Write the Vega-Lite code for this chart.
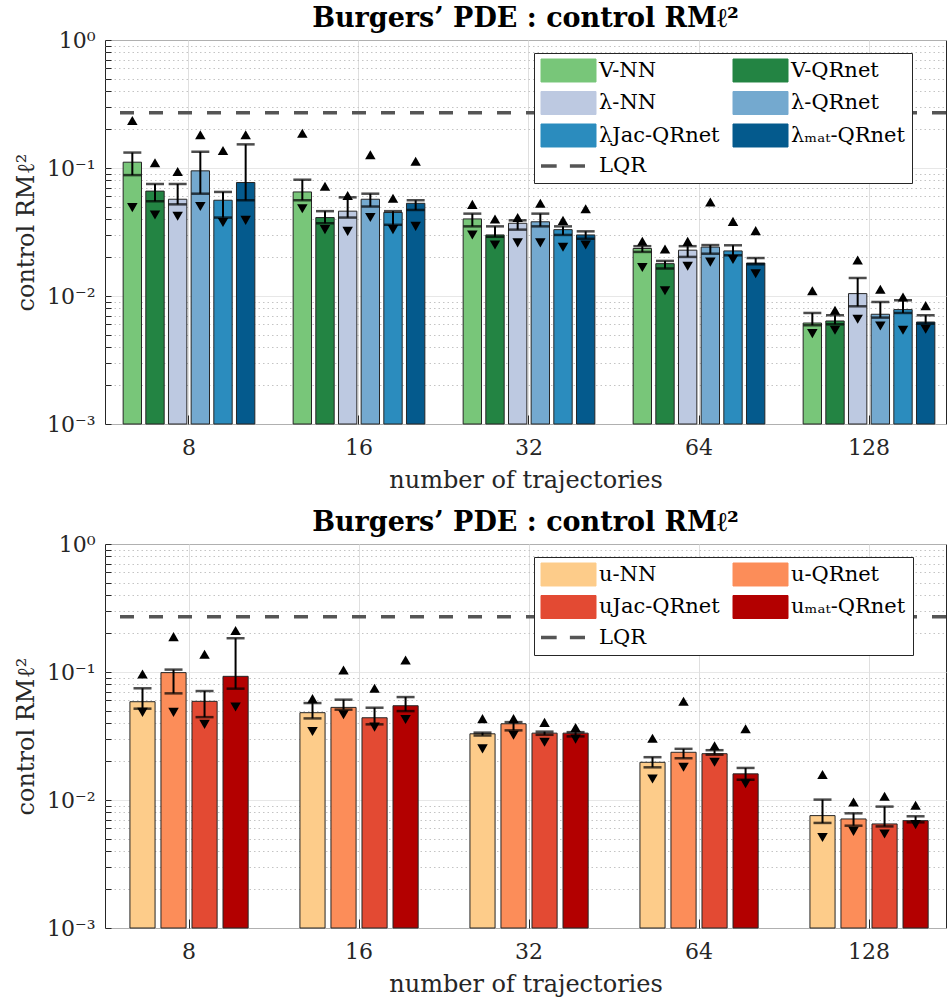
{
  "$schema": "https://vega.github.io/schema/vega-lite/v6.json",
  "padding": {"left": 14, "top": 4, "right": 0, "bottom": 0},
  "config": {
    "font": "DejaVu Serif",
    "view": {"stroke": "#262626", "strokeWidth": 1},
    "axis": {"labelFont": "DejaVu Serif", "labelFontSize": 22, "labelColor": "#262626", "titleFont": "DejaVu Serif", "titleFontSize": 24, "titleFontWeight": "normal", "titleColor": "#262626", "domain": false, "tickColor": "#262626"},
    "title": {"font": "DejaVu Serif", "fontSize": 27, "fontWeight": "bold", "color": "#000000", "offset": -4, "anchor": "middle", "frame": "group"}
  },
  "datasets": {
    "top": [
      {"traj": "8", "series": "V-NN", "mean": 0.111, "lo": 0.088, "hi": 0.132, "min": 0.049, "max": 0.235},
      {"traj": "8", "series": "V-QRnet", "mean": 0.066, "lo": 0.055, "hi": 0.075, "min": 0.043, "max": 0.110},
      {"traj": "8", "series": "λ-NN", "mean": 0.057, "lo": 0.052, "hi": 0.075, "min": 0.042, "max": 0.094},
      {"traj": "8", "series": "λ-QRnet", "mean": 0.095, "lo": 0.063, "hi": 0.134, "min": 0.050, "max": 0.182},
      {"traj": "8", "series": "λJac-QRnet", "mean": 0.056, "lo": 0.041, "hi": 0.065, "min": 0.0375, "max": 0.137},
      {"traj": "8", "series": "λₘₐₜ-QRnet", "mean": 0.077, "lo": 0.056, "hi": 0.153, "min": 0.039, "max": 0.182},
      {"traj": "16", "series": "V-NN", "mean": 0.065, "lo": 0.056, "hi": 0.081, "min": 0.048, "max": 0.187},
      {"traj": "16", "series": "V-QRnet", "mean": 0.041, "lo": 0.037, "hi": 0.046, "min": 0.033, "max": 0.072},
      {"traj": "16", "series": "λ-NN", "mean": 0.046, "lo": 0.041, "hi": 0.059, "min": 0.032, "max": 0.061},
      {"traj": "16", "series": "λ-QRnet", "mean": 0.057, "lo": 0.050, "hi": 0.063, "min": 0.041, "max": 0.127},
      {"traj": "16", "series": "λJac-QRnet", "mean": 0.045, "lo": 0.036, "hi": 0.046, "min": 0.033, "max": 0.058},
      {"traj": "16", "series": "λₘₐₜ-QRnet", "mean": 0.053, "lo": 0.047, "hi": 0.056, "min": 0.035, "max": 0.113},
      {"traj": "32", "series": "V-NN", "mean": 0.040, "lo": 0.035, "hi": 0.044, "min": 0.030, "max": 0.052},
      {"traj": "32", "series": "V-QRnet", "mean": 0.030, "lo": 0.029, "hi": 0.035, "min": 0.025, "max": 0.040},
      {"traj": "32", "series": "λ-NN", "mean": 0.037, "lo": 0.033, "hi": 0.039, "min": 0.026, "max": 0.041},
      {"traj": "32", "series": "λ-QRnet", "mean": 0.038, "lo": 0.035, "hi": 0.044, "min": 0.026, "max": 0.053},
      {"traj": "32", "series": "λJac-QRnet", "mean": 0.033, "lo": 0.030, "hi": 0.035, "min": 0.024, "max": 0.039},
      {"traj": "32", "series": "λₘₐₜ-QRnet", "mean": 0.030, "lo": 0.028, "hi": 0.032, "min": 0.025, "max": 0.048},
      {"traj": "64", "series": "V-NN", "mean": 0.0235, "lo": 0.0221, "hi": 0.0245, "min": 0.0167, "max": 0.0268},
      {"traj": "64", "series": "V-QRnet", "mean": 0.0179, "lo": 0.0164, "hi": 0.0188, "min": 0.0110, "max": 0.0233},
      {"traj": "64", "series": "λ-NN", "mean": 0.0228, "lo": 0.0202, "hi": 0.0245, "min": 0.0171, "max": 0.0267},
      {"traj": "64", "series": "λ-QRnet", "mean": 0.0241, "lo": 0.0214, "hi": 0.0250, "min": 0.0184, "max": 0.0543},
      {"traj": "64", "series": "λJac-QRnet", "mean": 0.0225, "lo": 0.0208, "hi": 0.0249, "min": 0.0193, "max": 0.0383},
      {"traj": "64", "series": "λₘₐₜ-QRnet", "mean": 0.0181, "lo": 0.0177, "hi": 0.0198, "min": 0.0149, "max": 0.0324},
      {"traj": "128", "series": "V-NN", "mean": 0.00615, "lo": 0.00591, "hi": 0.00737, "min": 0.00508, "max": 0.0110},
      {"traj": "128", "series": "V-QRnet", "mean": 0.00638, "lo": 0.00601, "hi": 0.00707, "min": 0.00540, "max": 0.00773},
      {"traj": "128", "series": "λ-NN", "mean": 0.01044, "lo": 0.00831, "hi": 0.01383, "min": 0.00658, "max": 0.0191},
      {"traj": "128", "series": "λ-QRnet", "mean": 0.00720, "lo": 0.00678, "hi": 0.00898, "min": 0.00583, "max": 0.01128},
      {"traj": "128", "series": "λJac-QRnet", "mean": 0.00783, "lo": 0.00737, "hi": 0.00926, "min": 0.00540, "max": 0.00982},
      {"traj": "128", "series": "λₘₐₜ-QRnet", "mean": 0.00626, "lo": 0.00608, "hi": 0.00707, "min": 0.00550, "max": 0.00841}
    ],
    "bottom": [
      {"traj": "8", "series": "u-NN", "mean": 0.0586, "lo": 0.0517, "hi": 0.0746, "min": 0.0484, "max": 0.0965},
      {"traj": "8", "series": "u-QRnet", "mean": 0.0989, "lo": 0.0681, "hi": 0.1044, "min": 0.0484, "max": 0.189},
      {"traj": "8", "series": "uJac-QRnet", "mean": 0.0590, "lo": 0.0444, "hi": 0.0710, "min": 0.0390, "max": 0.1376},
      {"traj": "8", "series": "uₘₐₜ-QRnet", "mean": 0.0925, "lo": 0.0741, "hi": 0.1836, "min": 0.0532, "max": 0.211},
      {"traj": "16", "series": "u-NN", "mean": 0.0481, "lo": 0.0434, "hi": 0.0572, "min": 0.0343, "max": 0.0619},
      {"traj": "16", "series": "u-QRnet", "mean": 0.0529, "lo": 0.0508, "hi": 0.0608, "min": 0.0464, "max": 0.1037},
      {"traj": "16", "series": "uJac-QRnet", "mean": 0.0439, "lo": 0.0390, "hi": 0.0526, "min": 0.0371, "max": 0.0746},
      {"traj": "16", "series": "uₘₐₜ-QRnet", "mean": 0.0545, "lo": 0.0495, "hi": 0.0637, "min": 0.0426, "max": 0.1241},
      {"traj": "32", "series": "u-NN", "mean": 0.0329, "lo": 0.0319, "hi": 0.0336, "min": 0.0251, "max": 0.0432},
      {"traj": "32", "series": "u-QRnet", "mean": 0.0394, "lo": 0.0350, "hi": 0.0406, "min": 0.0321, "max": 0.0432},
      {"traj": "32", "series": "uJac-QRnet", "mean": 0.0333, "lo": 0.0323, "hi": 0.0342, "min": 0.0283, "max": 0.0404},
      {"traj": "32", "series": "uₘₐₜ-QRnet", "mean": 0.0333, "lo": 0.0314, "hi": 0.0339, "min": 0.0299, "max": 0.0369},
      {"traj": "64", "series": "u-NN", "mean": 0.0197, "lo": 0.0180, "hi": 0.0216, "min": 0.0146, "max": 0.0304},
      {"traj": "64", "series": "u-QRnet", "mean": 0.0236, "lo": 0.0212, "hi": 0.0251, "min": 0.0180, "max": 0.0590},
      {"traj": "64", "series": "uJac-QRnet", "mean": 0.0230, "lo": 0.0226, "hi": 0.0245, "min": 0.0197, "max": 0.0265},
      {"traj": "64", "series": "uₘₐₜ-QRnet", "mean": 0.0160, "lo": 0.0144, "hi": 0.0178, "min": 0.0134, "max": 0.0360},
      {"traj": "128", "series": "u-NN", "mean": 0.00755, "lo": 0.00662, "hi": 0.01007, "min": 0.00510, "max": 0.0158},
      {"traj": "128", "series": "u-QRnet", "mean": 0.00711, "lo": 0.00630, "hi": 0.00787, "min": 0.00569, "max": 0.00966},
      {"traj": "128", "series": "uJac-QRnet", "mean": 0.00650, "lo": 0.00622, "hi": 0.00888, "min": 0.00543, "max": 0.01069},
      {"traj": "128", "series": "uₘₐₜ-QRnet", "mean": 0.00690, "lo": 0.00669, "hi": 0.00746, "min": 0.00642, "max": 0.00909}
    ],
    "lqr": [{"series": "LQR", "value": 0.27}]
  },
  "spacing": 120,
  "bounds": "flush",
  "resolve": {"scale": {"color": "independent", "x": "independent", "y": "independent", "xOffset": "independent"}, "legend": {"color": "independent"}},
  "vconcat": [
    {
      "width": 841, "height": 384,
      "title": {"text": "Burgers’ PDE : control RMℓ²"},
      "data": {"name": "top"},
      "layer": [
        {
          "mark": {"type": "bar", "stroke": "#262626", "strokeWidth": 1},
          "encoding": {
            "x": {"field": "traj", "type": "ordinal", "sort": ["8", "16", "32", "64", "128"], "scale": {"type": "band", "paddingInner": 0.2, "paddingOuter": 0.0735, "align": 0.64},
              "axis": {"title": "number of trajectories", "titlePadding": 10, "labelAngle": 0, "tickSize": -9, "labelPadding": 22, "grid": true, "gridColor": "#dfdfdf"}},
            "xOffset": {"field": "series", "sort": ["V-NN", "V-QRnet", "λ-NN", "λ-QRnet", "λJac-QRnet", "λₘₐₜ-QRnet"], "scale": {"paddingInner": 0.19, "paddingOuter": 0.095}},
            "y": {"field": "mean", "type": "quantitative", "stack": null, "scale": {"type": "log", "domain": [0.001, 1], "nice": false},
              "axis": {"title": "control RMℓ²", "titlePadding": 8, "values": [0.001, 0.002, 0.003, 0.004, 0.005, 0.006, 0.007, 0.008, 0.009, 0.01, 0.02, 0.03, 0.04, 0.05, 0.06, 0.07, 0.08, 0.09, 0.1, 0.2, 0.3, 0.4, 0.5, 0.6, 0.7, 0.8, 0.9, 1],
                "labelExpr": "datum.value == 1 ? '10⁰' : datum.value == 0.1 ? '10⁻¹' : datum.value == 0.01 ? '10⁻²' : datum.value == 0.001 ? '10⁻³' : ''",
                "labelOverlap": false, "labelPadding": 16, "tickSize": -6, "grid": true,
                "gridDash": {"condition": {"test": "indexof([0.001, 0.01, 0.1, 1], datum.value) < 0", "value": [1.5, 3]}, "value": [1, 0]},
                "gridColor": {"condition": {"test": "indexof([0.001, 0.01, 0.1, 1], datum.value) < 0", "value": "#c4c4c4"}, "value": "#dfdfdf"}}},
            "color": {"field": "series", "type": "nominal",
              "scale": {"domain": ["V-NN", "V-QRnet", "λ-NN", "λ-QRnet", "λJac-QRnet", "λₘₐₜ-QRnet", "LQR"], "range": ["#78c679", "#238443", "#bdc9e1", "#74a9cf", "#2b8cbe", "#045a8d", "#555555"]},
              "legend": {"orient": "none", "legendX": 429, "legendY": 13, "direction": "horizontal", "title": null, "columns": 2, "columnPadding": 11, "rowPadding": 5.5,
                "symbolSize": 3025, "symbolType": "M-1,-0.418H1V0.418H-1Z", "symbolStrokeColor": "#262626", "symbolStrokeWidth": 1, "symbolOffset": 17,
                "labelFont": "DejaVu Serif", "labelFontSize": 21, "labelOffset": 20, "labelColor": "#000000", "labelLimit": 300,
                "padding": 7, "strokeColor": "#262626", "fillColor": "#ffffff",
                "encoding": {"symbols": {
                  "shape": {"value": {"expr": "datum.value === 'LQR' ? 'M-1,0H-0.43M0.05,0H0.6' : 'M-1,-0.418H1V0.418H-1Z'"}},
                  "strokeWidth": {"value": {"expr": "datum.value === 'LQR' ? 3.5 : 1"}},
                  "stroke": {"value": {"expr": "datum.value === 'LQR' ? '#555555' : '#262626'"}},
                  "fillOpacity": {"value": {"expr": "datum.value === 'LQR' ? 0 : 1"}},
                  "opacity": {"value": 1}}}}}
          }
        },
        {
          "mark": {"type": "rule", "color": "#000000", "strokeWidth": 2},
          "encoding": {
            "x": {"field": "traj", "type": "ordinal", "sort": ["8", "16", "32", "64", "128"], "scale": {"type": "band"}},
            "xOffset": {"field": "series", "sort": ["V-NN", "V-QRnet", "λ-NN", "λ-QRnet", "λJac-QRnet", "λₘₐₜ-QRnet"]},
            "y": {"field": "lo", "type": "quantitative", "scale": {"type": "log", "domain": [0.001, 1], "nice": false}},
            "y2": {"field": "hi"}
          }
        },
        {
          "mark": {"type": "tick", "color": "#000000", "thickness": 2.5, "size": 18},
          "encoding": {
            "x": {"field": "traj", "type": "ordinal", "sort": ["8", "16", "32", "64", "128"], "scale": {"type": "band"}},
            "xOffset": {"field": "series", "sort": ["V-NN", "V-QRnet", "λ-NN", "λ-QRnet", "λJac-QRnet", "λₘₐₜ-QRnet"]},
            "y": {"field": "hi", "type": "quantitative", "scale": {"type": "log", "domain": [0.001, 1], "nice": false}}
          }
        },
        {
          "mark": {"type": "tick", "color": "#000000", "thickness": 2.5, "size": 18},
          "encoding": {
            "x": {"field": "traj", "type": "ordinal", "sort": ["8", "16", "32", "64", "128"], "scale": {"type": "band"}},
            "xOffset": {"field": "series", "sort": ["V-NN", "V-QRnet", "λ-NN", "λ-QRnet", "λJac-QRnet", "λₘₐₜ-QRnet"]},
            "y": {"field": "lo", "type": "quantitative", "scale": {"type": "log", "domain": [0.001, 1], "nice": false}}
          }
        },
        {
          "mark": {"type": "point", "shape": "triangle-up", "filled": true, "color": "#000000", "size": 110, "opacity": 1},
          "encoding": {
            "x": {"field": "traj", "type": "ordinal", "sort": ["8", "16", "32", "64", "128"], "scale": {"type": "band"}},
            "xOffset": {"field": "series", "sort": ["V-NN", "V-QRnet", "λ-NN", "λ-QRnet", "λJac-QRnet", "λₘₐₜ-QRnet"]},
            "y": {"field": "max", "type": "quantitative", "scale": {"type": "log", "domain": [0.001, 1], "nice": false}}
          }
        },
        {
          "mark": {"type": "point", "shape": "triangle-down", "filled": true, "color": "#000000", "size": 110, "opacity": 1},
          "encoding": {
            "x": {"field": "traj", "type": "ordinal", "sort": ["8", "16", "32", "64", "128"], "scale": {"type": "band"}},
            "xOffset": {"field": "series", "sort": ["V-NN", "V-QRnet", "λ-NN", "λ-QRnet", "λJac-QRnet", "λₘₐₜ-QRnet"]},
            "y": {"field": "min", "type": "quantitative", "scale": {"type": "log", "domain": [0.001, 1], "nice": false}}
          }
        },
        {
          "data": {"name": "lqr"},
          "mark": {"type": "rule", "strokeDash": [14, 15], "strokeWidth": 3.5},
          "encoding": {
            "y": {"field": "value", "type": "quantitative", "scale": {"type": "log", "domain": [0.001, 1], "nice": false}},
            "color": {"field": "series", "type": "nominal", "legend": null}
          }
        }
      ]
    },
    {
      "width": 841, "height": 384,
      "title": {"text": "Burgers’ PDE : control RMℓ²"},
      "data": {"name": "bottom"},
      "layer": [
        {
          "mark": {"type": "bar", "stroke": "#262626", "strokeWidth": 1},
          "encoding": {
            "x": {"field": "traj", "type": "ordinal", "sort": ["8", "16", "32", "64", "128"], "scale": {"type": "band", "paddingInner": 0.27, "paddingOuter": 0.1085, "align": 0.596},
              "axis": {"title": "number of trajectories", "titlePadding": 10, "labelAngle": 0, "tickSize": -9, "labelPadding": 22, "grid": true, "gridColor": "#dfdfdf"}},
            "xOffset": {"field": "series", "sort": ["u-NN", "u-QRnet", "uJac-QRnet", "uₘₐₜ-QRnet"], "scale": {"paddingInner": 0.19, "paddingOuter": 0.095}},
            "y": {"field": "mean", "type": "quantitative", "stack": null, "scale": {"type": "log", "domain": [0.001, 1], "nice": false},
              "axis": {"title": "control RMℓ²", "titlePadding": 8, "values": [0.001, 0.002, 0.003, 0.004, 0.005, 0.006, 0.007, 0.008, 0.009, 0.01, 0.02, 0.03, 0.04, 0.05, 0.06, 0.07, 0.08, 0.09, 0.1, 0.2, 0.3, 0.4, 0.5, 0.6, 0.7, 0.8, 0.9, 1],
                "labelExpr": "datum.value == 1 ? '10⁰' : datum.value == 0.1 ? '10⁻¹' : datum.value == 0.01 ? '10⁻²' : datum.value == 0.001 ? '10⁻³' : ''",
                "labelOverlap": false, "labelPadding": 16, "tickSize": -6, "grid": true,
                "gridDash": {"condition": {"test": "indexof([0.001, 0.01, 0.1, 1], datum.value) < 0", "value": [1.5, 3]}, "value": [1, 0]},
                "gridColor": {"condition": {"test": "indexof([0.001, 0.01, 0.1, 1], datum.value) < 0", "value": "#c4c4c4"}, "value": "#dfdfdf"}}},
            "color": {"field": "series", "type": "nominal",
              "scale": {"domain": ["u-NN", "u-QRnet", "uJac-QRnet", "uₘₐₜ-QRnet", "LQR"], "range": ["#fdcc8a", "#fc8d59", "#e34a33", "#b30000", "#555555"]},
              "legend": {"orient": "none", "legendX": 429, "legendY": 13, "direction": "horizontal", "title": null, "columns": 2, "columnPadding": 11, "rowPadding": 5.5,
                "symbolSize": 3025, "symbolType": "M-1,-0.418H1V0.418H-1Z", "symbolStrokeColor": "#262626", "symbolStrokeWidth": 1, "symbolOffset": 17,
                "labelFont": "DejaVu Serif", "labelFontSize": 21, "labelOffset": 20, "labelColor": "#000000", "labelLimit": 300,
                "padding": 7, "strokeColor": "#262626", "fillColor": "#ffffff",
                "encoding": {"symbols": {
                  "shape": {"value": {"expr": "datum.value === 'LQR' ? 'M-1,0H-0.43M0.05,0H0.6' : 'M-1,-0.418H1V0.418H-1Z'"}},
                  "strokeWidth": {"value": {"expr": "datum.value === 'LQR' ? 3.5 : 1"}},
                  "stroke": {"value": {"expr": "datum.value === 'LQR' ? '#555555' : '#262626'"}},
                  "fillOpacity": {"value": {"expr": "datum.value === 'LQR' ? 0 : 1"}},
                  "opacity": {"value": 1}}}}}
          }
        },
        {
          "mark": {"type": "rule", "color": "#000000", "strokeWidth": 2},
          "encoding": {
            "x": {"field": "traj", "type": "ordinal", "sort": ["8", "16", "32", "64", "128"], "scale": {"type": "band"}},
            "xOffset": {"field": "series", "sort": ["u-NN", "u-QRnet", "uJac-QRnet", "uₘₐₜ-QRnet"]},
            "y": {"field": "lo", "type": "quantitative", "scale": {"type": "log", "domain": [0.001, 1], "nice": false}},
            "y2": {"field": "hi"}
          }
        },
        {
          "mark": {"type": "tick", "color": "#000000", "thickness": 2.5, "size": 18},
          "encoding": {
            "x": {"field": "traj", "type": "ordinal", "sort": ["8", "16", "32", "64", "128"], "scale": {"type": "band"}},
            "xOffset": {"field": "series", "sort": ["u-NN", "u-QRnet", "uJac-QRnet", "uₘₐₜ-QRnet"]},
            "y": {"field": "hi", "type": "quantitative", "scale": {"type": "log", "domain": [0.001, 1], "nice": false}}
          }
        },
        {
          "mark": {"type": "tick", "color": "#000000", "thickness": 2.5, "size": 18},
          "encoding": {
            "x": {"field": "traj", "type": "ordinal", "sort": ["8", "16", "32", "64", "128"], "scale": {"type": "band"}},
            "xOffset": {"field": "series", "sort": ["u-NN", "u-QRnet", "uJac-QRnet", "uₘₐₜ-QRnet"]},
            "y": {"field": "lo", "type": "quantitative", "scale": {"type": "log", "domain": [0.001, 1], "nice": false}}
          }
        },
        {
          "mark": {"type": "point", "shape": "triangle-up", "filled": true, "color": "#000000", "size": 110, "opacity": 1},
          "encoding": {
            "x": {"field": "traj", "type": "ordinal", "sort": ["8", "16", "32", "64", "128"], "scale": {"type": "band"}},
            "xOffset": {"field": "series", "sort": ["u-NN", "u-QRnet", "uJac-QRnet", "uₘₐₜ-QRnet"]},
            "y": {"field": "max", "type": "quantitative", "scale": {"type": "log", "domain": [0.001, 1], "nice": false}}
          }
        },
        {
          "mark": {"type": "point", "shape": "triangle-down", "filled": true, "color": "#000000", "size": 110, "opacity": 1},
          "encoding": {
            "x": {"field": "traj", "type": "ordinal", "sort": ["8", "16", "32", "64", "128"], "scale": {"type": "band"}},
            "xOffset": {"field": "series", "sort": ["u-NN", "u-QRnet", "uJac-QRnet", "uₘₐₜ-QRnet"]},
            "y": {"field": "min", "type": "quantitative", "scale": {"type": "log", "domain": [0.001, 1], "nice": false}}
          }
        },
        {
          "data": {"name": "lqr"},
          "mark": {"type": "rule", "strokeDash": [14, 15], "strokeWidth": 3.5},
          "encoding": {
            "y": {"field": "value", "type": "quantitative", "scale": {"type": "log", "domain": [0.001, 1], "nice": false}},
            "color": {"field": "series", "type": "nominal", "legend": null}
          }
        }
      ]
    }
  ]
}
